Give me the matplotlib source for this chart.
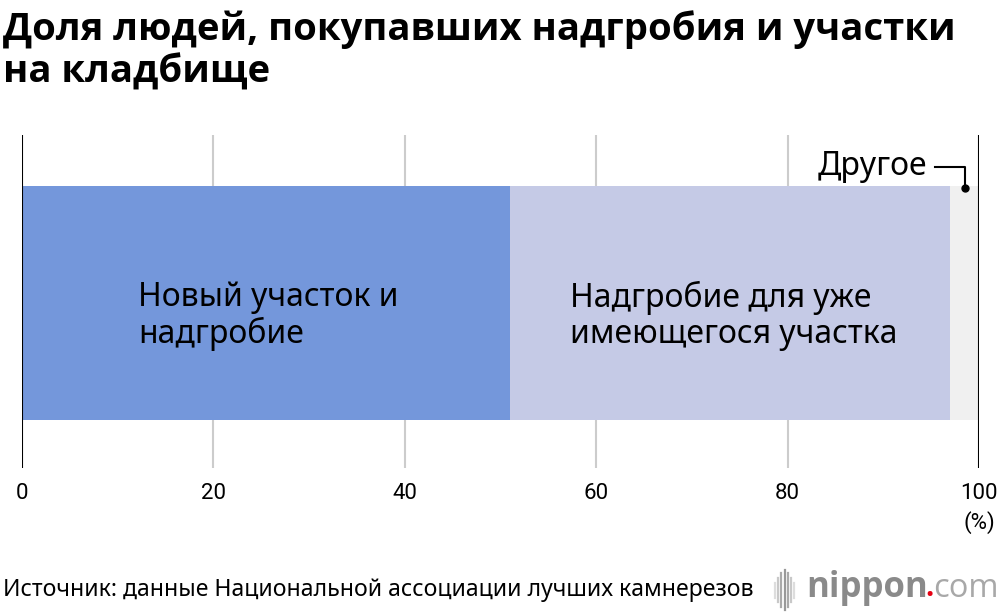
import matplotlib
matplotlib.use("Agg")
import matplotlib.pyplot as plt
from matplotlib.lines import Line2D

plt.rcParams['font.family'] = ['Noto Sans', 'DejaVu Sans']

categories = ["Новый участок и\nнадгробие", "Надгробие для уже\nимеющегося участка", "Другое"]
values = [51.0, 46.0, 3.0]
colors = ["#7497DB", "#C5CAE6", "#F0F0F0"]
xticks = [0, 20, 40, 60, 80, 100]
xtick_labels = ["0", "20", "40", "60", "80", "100"]

fig = plt.figure(figsize=(10, 6.16), dpi=100)
ax = fig.add_axes([0.022, 0.240, 0.957, 0.541])
ax.set_xlim(0, 100)
ax.set_ylim(0, 1)

for x in xticks[1:-1]:
    ax.axvline(x, color="#CCCCCC", lw=1.5, zorder=0)
ax.axvline(0, color="black", lw=1.5, zorder=3)
ax.axvline(100, color="black", lw=1.5, zorder=3)

left = 0
bar_y, bar_h = 0.495, 0.703
offsets = [12.1, 6.3]
for i, (lab, v, c) in enumerate(zip(categories, values, colors)):
    ax.barh(bar_y, v, left=left, height=bar_h, color=c, zorder=2)
    if i < 2:
        ax.text(left + offsets[i], bar_y - 0.038, lab, ha="left", va="center",
                fontsize=23, linespacing=1.1, zorder=4)
    left += v

# "Другое" annotation
other_mid = values[0] + values[1] + values[2] / 2
ax.plot([other_mid], [bar_y + bar_h / 2 - 0.005], 'o', color="black", ms=5, zorder=5)
ax.plot([other_mid - 3.1, other_mid, other_mid], [0.905, 0.905, bar_y + bar_h / 2 - 0.005],
        color="black", lw=1.5, zorder=5)
ax.text(other_mid - 3.9, 0.905, categories[2], ha="right", va="center", fontsize=23, zorder=5)

ax.set_xticks(xticks)
ax.set_xticklabels(xtick_labels, family=["Roboto", "DejaVu Sans"], fontsize=16)
ax.tick_params(axis="x", length=0, pad=11)
ax.set_yticks([])
for s in ax.spines.values():
    s.set_visible(False)

fig.text(0.995, 0.152, "(%)", ha="right", va="center", fontsize=16, family=["Roboto", "DejaVu Sans"])

fig.text(0.003, 0.917, "Доля людей, покупавших надгробия и участки\nна кладбище", ha="left", va="center",
         fontsize=27.5, fontweight="bold", linespacing=1.15, family=["Open Sans", "DejaVu Sans"])

fig.text(0.003, 0.042, "Источник: данные Национальной ассоциации лучших камнерезов", ha="left", va="center",
         fontsize=16.6)

# nippon.com logo
grays = ["#DDDDDD", "#C8C8C8", "#AAAAAA", "#999999", "#AAAAAA", "#C8C8C8", "#DDDDDD"]
heights = [0.012, 0.02, 0.028, 0.032, 0.028, 0.02, 0.012]
for k, (g, h) in enumerate(zip(grays, heights)):
    xk = 0.775 + k * 0.0032
    fig.add_artist(Line2D([xk, xk], [0.042 - h, 0.042 + h], color=g, lw=1.6))
t = fig.text(0.806, 0.045, "nippon", ha="left", va="center", fontsize=25, fontweight="bold",
             color="#8A8A8A", family=["Open Sans", "DejaVu Sans"])
fig.canvas.draw()
bb = t.get_window_extent().transformed(fig.transFigure.inverted())
t2 = fig.text(bb.x1 - 0.002, 0.045, ".", ha="left", va="center", fontsize=21, color="#E60012", fontweight="bold",
              family=["Open Sans", "DejaVu Sans"])
fig.canvas.draw()
bb2 = t2.get_window_extent().transformed(fig.transFigure.inverted())
fig.text(bb2.x1 - 0.001, 0.045, "com", ha="left", va="center", fontsize=23.5, color="#A8A8A8",
         family=["Open Sans", "DejaVu Sans"])

fig.savefig("out.png", dpi=100)
